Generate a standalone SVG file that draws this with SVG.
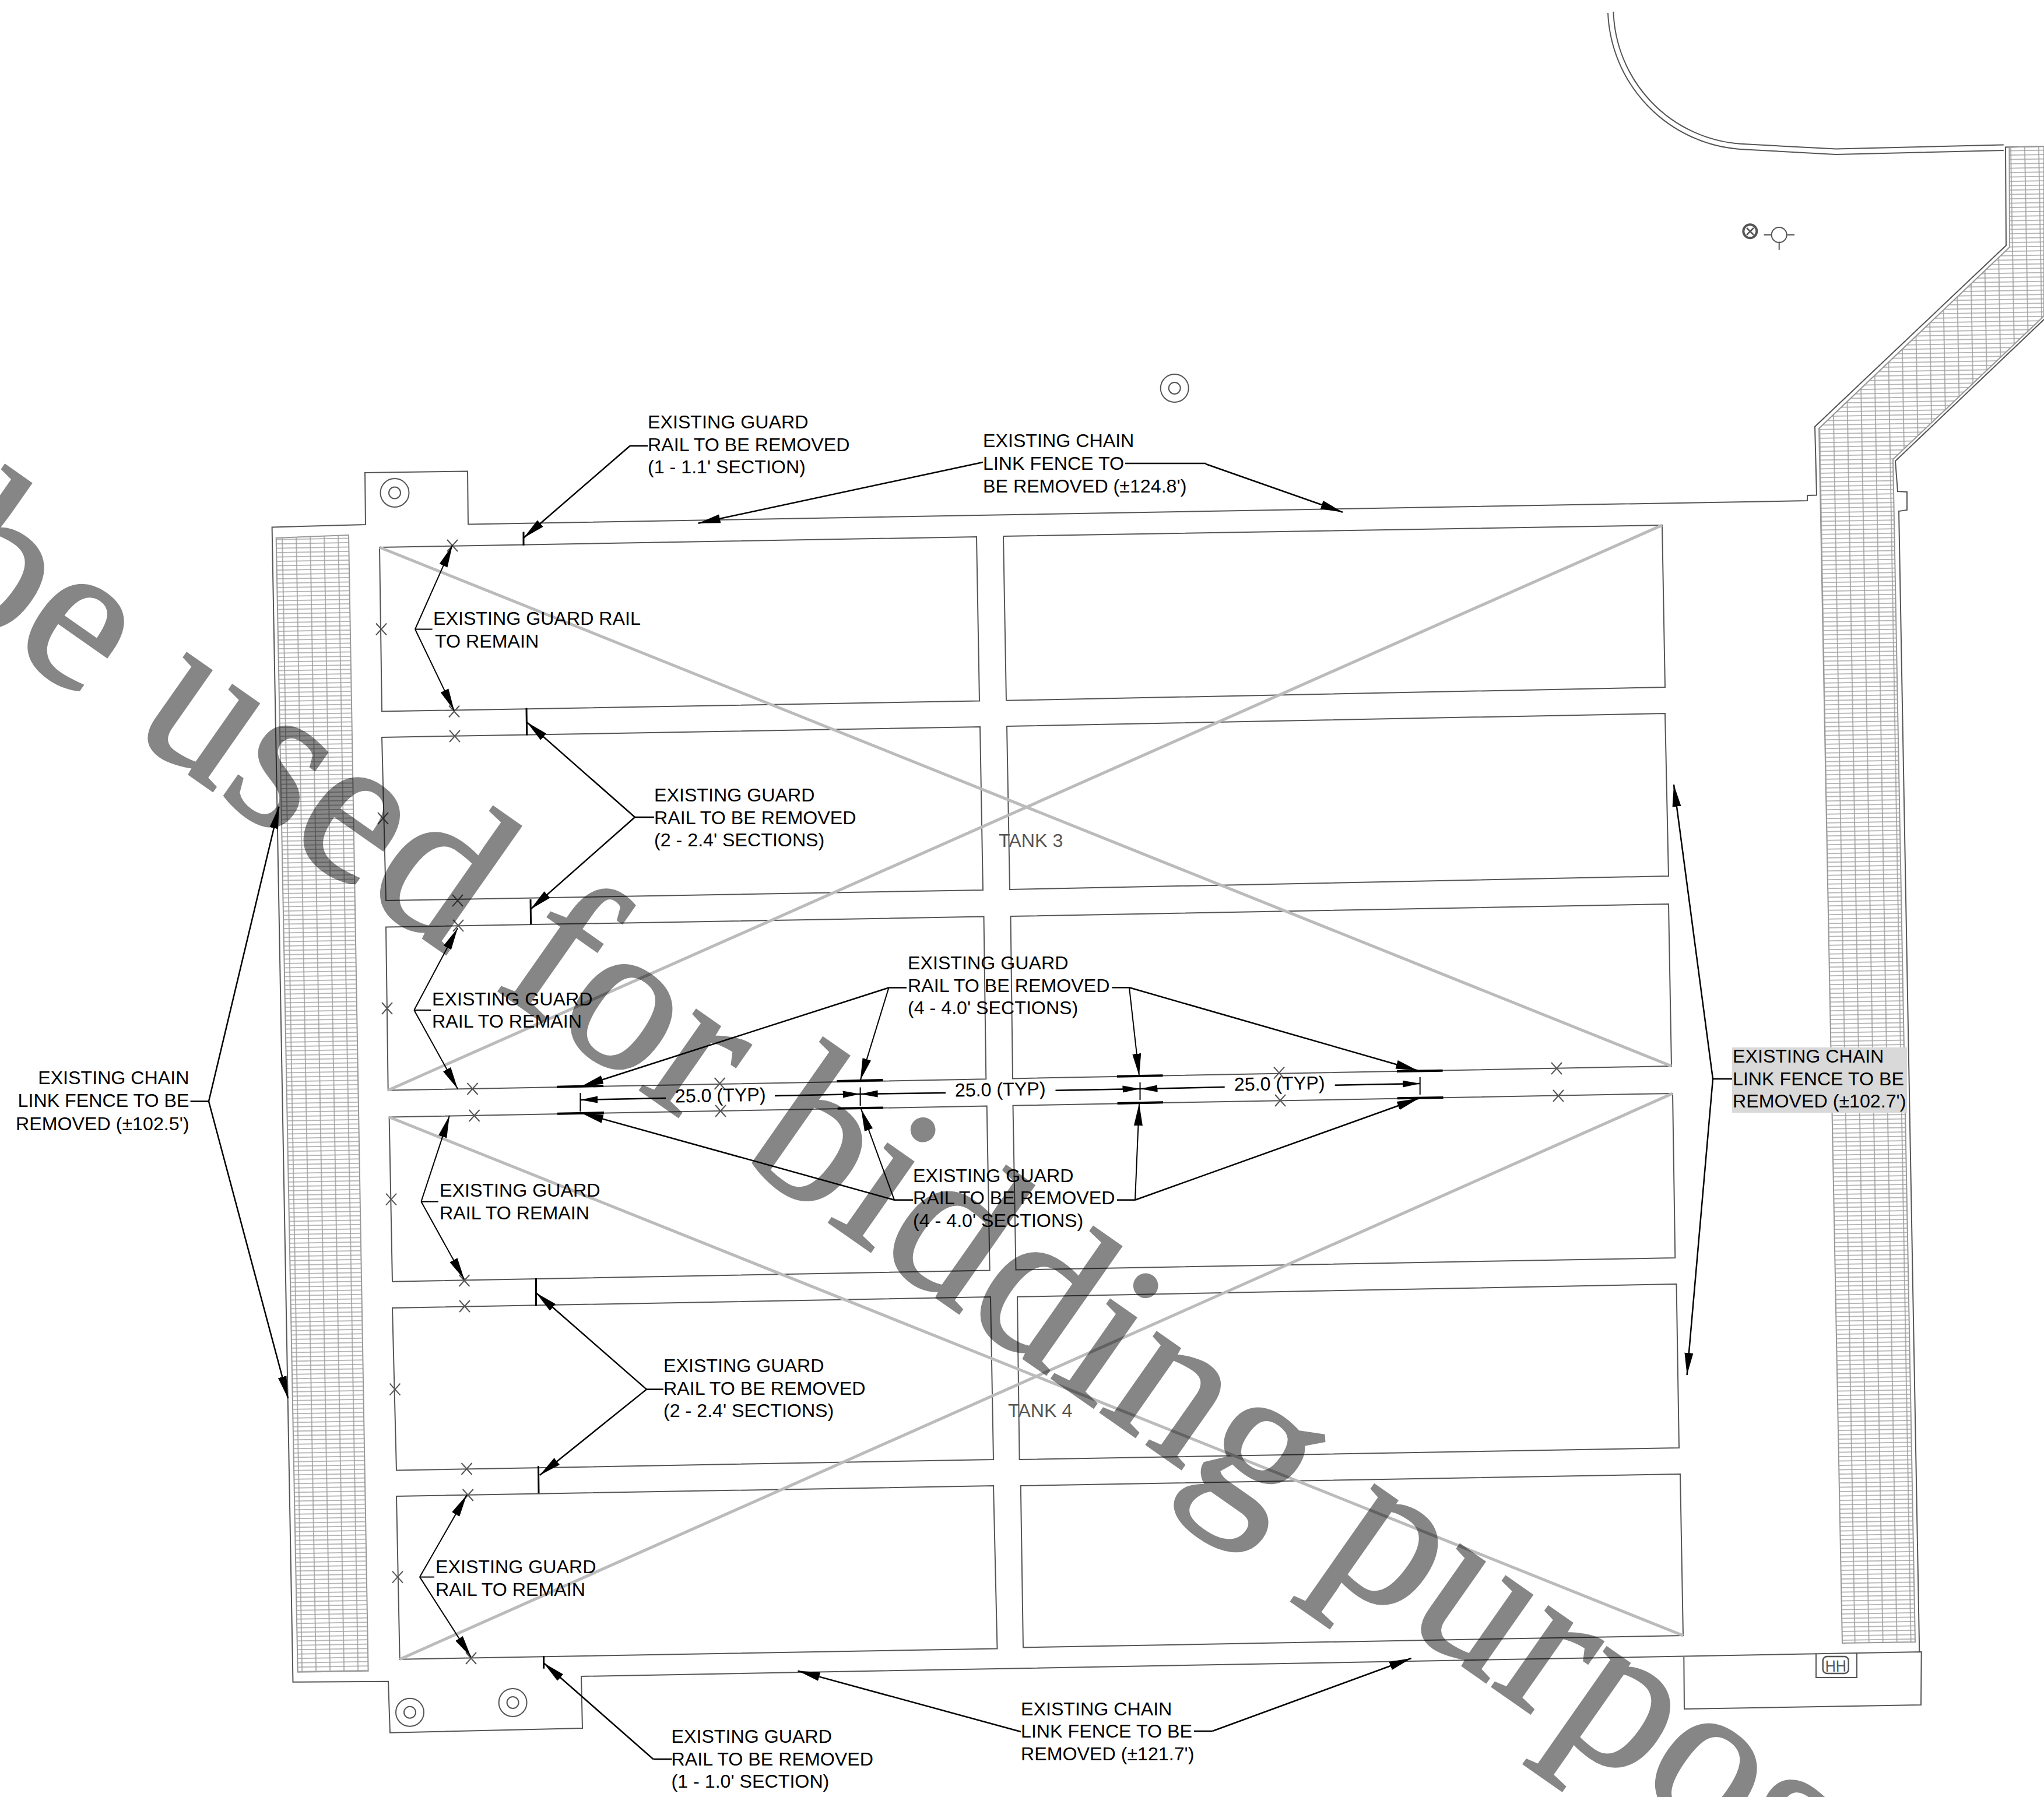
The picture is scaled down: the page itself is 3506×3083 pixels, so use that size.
<svg xmlns="http://www.w3.org/2000/svg" width="3506" height="3083" viewBox="0 0 3506 3083">
<style>
.g{fill:none;stroke:#555;stroke-width:2}
.h{stroke:#999;stroke-width:2}
.d{fill:none;stroke:#bbb;stroke-width:5}
.x{fill:none;stroke:#555;stroke-width:2}
.c{fill:none;stroke:#000;stroke-width:2.5}
.t{fill:none;stroke:#000;stroke-width:4}
.m{fill:none;stroke:#000;stroke-width:2}
text{font-family:"Liberation Sans",Arial,sans-serif;font-size:32.2px;fill:#000}
.tk{fill:#555}
.wm{font-family:"Liberation Serif","Times New Roman",serif;font-size:365px;fill:#000;stroke:#000;stroke-width:4;opacity:.47}
</style>
<defs>
<pattern id="hp" patternUnits="userSpaceOnUse" width="24" height="7.5" patternTransform="rotate(-1)">
<path d="M0,3.75H24M12,0V7.5" fill="none" stroke="#a0a0a0" stroke-width="1.6"/>
</pattern>
<marker id="a" markerUnits="userSpaceOnUse" markerWidth="40" markerHeight="18" refX="38" refY="9" orient="auto"><path d="M0,1.5L38,9L0,16.5z" fill="#000"/></marker>
<marker id="s" markerUnits="userSpaceOnUse" markerWidth="32" markerHeight="14" refX="30" refY="7" orient="auto"><path d="M0,1L30,7L0,13z" fill="#000"/></marker>
<path id="xm" d="M-9,-10L9,10M9,-10L-9,10" class="x"/>
</defs>
<rect width="3506" height="3083" fill="#fff"/>

<g id="site-lines">
<path class="g" d="M3506,251L3440,252.6L3441,421L3113,732L3116,849.6L3100,850L3100,859L803,899.5L802,808.5L626,811L627,900L466.6,904.5L502.5,2885.7L666,2884.7L669,2972.7L999,2965L997,2876L3295.7,2834L3295,2925L2889,2932L2888.3,2843"/>
<path class="g" d="M3506,548L3251,791L3255,843L3271,844L3271,875L3257,877L3292.3,2834"/>
<path class="g" d="M3115,2838V2878H3185V2837"/>
<rect class="g" style="stroke-width:2.5" x="3126.7" y="2842" width="44" height="29" rx="7"/>
<path class="g" d="M2758,22A245,245 0 0 0 2984.3,256L3148.8,265L3436.8,258"/>
<path class="g" d="M2767.4,20A235,235 0 0 0 2985.3,246.8L3148.8,255.5L3436.8,248.6"/>
</g>

<g id="hatch">
<path class="h" fill="url(#hp)" d="M473.7,923L598,918L631.6,2866.7L510.7,2868.7z"/>
<path class="h" fill="url(#hp)" d="M3446.5,252.6L3506,251V542L3247,788L3285,2817L3160,2819L3120,735L3447,424z"/>
</g>

<g id="circles">
<circle class="g" cx="677" cy="845.5" r="24.5"/><circle class="g" cx="677" cy="845.5" r="10"/>
<circle class="g" cx="703" cy="2937.7" r="24"/><circle class="g" cx="703" cy="2937.7" r="10"/>
<circle class="g" cx="879.6" cy="2921" r="24"/><circle class="g" cx="879.6" cy="2921" r="10"/>
<circle class="g" cx="2014.7" cy="666" r="24"/><circle class="g" cx="2014.7" cy="666" r="10"/>
<circle class="g" style="stroke-width:4" cx="3001.8" cy="396.7" r="11.5"/><path class="g" style="stroke-width:2.5" d="M2996,391L3008,403M3008,391L2996,403"/>
<circle class="g" cx="3051.7" cy="403" r="13"/><path class="g" d="M3025.5,403H3038.3M3065.5,403H3078M3051.7,414.5V428.8"/>
</g>

<g id="tank-3">
<path class="g" d="M651,939L1675,921L1680,1202.6L655,1220.5z"/>
<path class="g" d="M1721,920L2851,901L2856,1179L1726,1201.8z"/>
<path class="g" d="M655,1265L1681,1247L1686,1527L662,1545z"/>
<path class="g" d="M1727,1246L2856,1224L2862,1503L1732,1526z"/>
<path class="g" d="M662,1590.6L1687.5,1572.6L1691.3,1851.3L665.7,1870.5z"/>
<path class="g" d="M1733.5,1572L2862,1551L2867,1829L1737,1850.4z"/>
<path class="d" d="M651,939L2867,1829M665.7,1870.5L2851,901"/>
<text class="tk" x="1713" y="1453">TANK 3</text>
</g>
<g id="tank-4">
<path class="g" d="M667.6,1916.5L1692.7,1897.5L1697.7,2179.6L673,2198.7z"/>
<path class="g" d="M1737.5,1896.7L2869,1876L2873.3,2158L1742.5,2178.6z"/>
<path class="g" d="M673,2244L1699,2225L1704,2504L680,2522.5z"/>
<path class="g" d="M1745,2224.8L2875.5,2203L2880,2484L1748.6,2504z"/>
<path class="g" d="M680,2567L1704,2549L1710.5,2828.5L685.7,2846.7z"/>
<path class="g" d="M1750.8,2549L2882,2529L2887,2806L1755,2826.5z"/>
<path class="d" d="M667.6,1916.5L2887,2806M685.7,2846.7L2869,1876"/>
<text class="tk" x="1729" y="2430.5">TANK 4</text>
</g>
<text class="tk" x="3131" y="2868" textLength="36" lengthAdjust="spacingAndGlyphs" style="font-size:28px" transform="rotate(-1 3149 2868)">HH</text>

<g id="rail-marks">
<use href="#xm" x="776" y="936"/><use href="#xm" x="654" y="1079.5"/><use href="#xm" x="779" y="1220.5"/><use href="#xm" x="780" y="1263"/>
<use href="#xm" x="657" y="1404"/><use href="#xm" x="785" y="1545"/><use href="#xm" x="786" y="1588"/><use href="#xm" x="664" y="1730"/>
<use href="#xm" x="810.5" y="1868"/><use href="#xm" x="813.6" y="1914"/><use href="#xm" x="1234.6" y="1859"/><use href="#xm" x="1236" y="1906"/>
<use href="#xm" x="671" y="2057.6"/><use href="#xm" x="796.4" y="2197"/><use href="#xm" x="797" y="2241"/><use href="#xm" x="677.5" y="2383.6"/>
<use href="#xm" x="800.5" y="2520"/><use href="#xm" x="802.7" y="2565"/><use href="#xm" x="682" y="2705.6"/><use href="#xm" x="808" y="2845"/>
<use href="#xm" x="2194" y="1840.7"/><use href="#xm" x="2196" y="1888"/><use href="#xm" x="2670" y="1833"/><use href="#xm" x="2673" y="1880"/>
<path class="c" style="stroke-width:3" d="M898,912.5V935.7M903,1214.7L903.7,1261.6M910,1543L910.6,1586M919.5,2193V2240.6M923.5,2515L924,2562M932.6,2841V2862.7"/>
<path class="t" d="M955,1864.7L1035,1863M956,1910.7L1036,1909M1435.5,1855L1514.5,1853M1436.7,1901.8L1515,1900.4M1916,1846.7L1994.5,1845.3M1916.6,1893L1995,1891.3M2396,1838L2474.6,1836.7M2396.7,1884.3L2475.5,1883"/>
</g>

<g id="connectors">
<path class="c" d="M1111,765H1080.5"/><path class="c" marker-end="url(#a)" d="M1080.5,765L898,923"/>
<path class="c" marker-end="url(#a)" d="M1686,793L1197.6,897.8"/>
<path class="c" d="M1930,795H2068"/><path class="c" marker-end="url(#a)" d="M2068,796L2303,878.7"/>
<path class="m" d="M712,1079.5H741.6"/><path class="m" marker-end="url(#a)" d="M712,1079.5L776,935.7"/><path class="m" marker-end="url(#a)" d="M712,1079.5L779,1219"/>
<path class="c" d="M1122,1402H1089"/><path class="c" marker-end="url(#a)" d="M1089,1402L903.7,1239"/><path class="c" marker-end="url(#a)" d="M1089,1402L910,1560"/>
<path class="m" d="M710.3,1733H739"/><path class="m" marker-end="url(#a)" d="M710.3,1733L785,1592.4"/><path class="m" marker-end="url(#a)" d="M710.3,1733L785,1868"/>
<path class="c" d="M1555,1694.5H1524.5"/><path class="c" marker-end="url(#a)" d="M1524.5,1694.5L997,1864"/><path class="m" marker-end="url(#a)" d="M1524.5,1694.5L1475.6,1853.6"/>
<path class="c" d="M1907.5,1694.3H1937"/><path class="m" marker-end="url(#a)" d="M1937,1694.3L1954,1845.7"/><path class="c" marker-end="url(#a)" d="M1937,1694.3L2432,1836.7"/>
<path class="c" d="M1566,2058.7H1534"/><path class="c" marker-end="url(#a)" d="M1534,2058.7L997,1909.4"/><path class="m" marker-end="url(#a)" d="M1534,2058.7L1477,1902.7"/>
<path class="c" d="M1916,2058.7H1947"/><path class="m" marker-end="url(#a)" d="M1947,2058.7L1954,1893.3"/><path class="c" marker-end="url(#a)" d="M1947,2058.7L2434,1884.3"/>
<path class="m" d="M722.4,2061.6H751.8"/><path class="m" marker-end="url(#a)" d="M722.4,2061.6L771,1914"/><path class="m" marker-end="url(#a)" d="M722.4,2061.6L796.4,2195"/>
<path class="c" d="M1138,2383.6H1109"/><path class="c" marker-end="url(#a)" d="M1109,2383.6L919.5,2218"/><path class="c" marker-end="url(#a)" d="M1109,2383.6L925.7,2531"/>
<path class="m" d="M720,2705.6H745"/><path class="m" marker-end="url(#a)" d="M720,2705.6L800.5,2565"/><path class="m" marker-end="url(#a)" d="M720,2705.6L808,2843"/>
<path class="c" d="M1152.5,3018H1120.4"/><path class="c" marker-end="url(#a)" d="M1120.4,3018L932.6,2853"/>
<path class="c" marker-end="url(#a)" d="M1751,2971L1368.5,2866.6"/>
<path class="c" d="M2048,2970H2079.5"/><path class="c" marker-end="url(#a)" d="M2079.5,2970L2420.7,2845"/>
<path class="c" d="M326.5,1889.5H358"/><path class="c" marker-end="url(#a)" d="M358,1889.5L478.6,1383.7"/><path class="c" marker-end="url(#a)" d="M358,1889.5L494,2399"/>
<path class="c" d="M2971,1851H2938"/><path class="c" marker-end="url(#a)" d="M2938,1851L2871,1346"/><path class="c" marker-end="url(#a)" d="M2938,1851L2893.6,2359"/>
<path class="m" d="M995.4,1875V1907M1475.6,1865.6V1897M1955.5,1857V1887M2435.7,1848V1878"/>
<path class="c" marker-end="url(#s)" d="M1142,1884L995.4,1887"/><path class="c" marker-end="url(#s)" d="M1329,1880L1475.6,1877"/>
<path class="c" marker-end="url(#s)" d="M1622,1875L1475.6,1877"/><path class="c" marker-end="url(#s)" d="M1810.5,1870.7L1955.5,1868"/>
<path class="c" marker-end="url(#s)" d="M2100.7,1865L1955.5,1868"/><path class="c" marker-end="url(#s)" d="M2289.7,1861.7L2435.7,1859"/>
</g>

<g id="label-top-rail"><text x="1111" y="735">EXISTING GUARD</text><text x="1111" y="773.7">RAIL TO BE REMOVED</text><text x="1111" y="812.4">(1 - 1.1' SECTION)</text></g>
<g id="label-top-fence"><text x="1686" y="767">EXISTING CHAIN</text><text x="1686" y="805.7">LINK FENCE TO</text><text x="1686" y="845">BE REMOVED (±124.8')</text></g>
<g id="label-remain-1"><text x="743" y="1072">EXISTING GUARD RAIL</text><text x="746" y="1110.7">TO REMAIN</text></g>
<g id="label-rail-2"><text x="1122" y="1375">EXISTING GUARD</text><text x="1122" y="1413.7">RAIL TO BE REMOVED</text><text x="1122" y="1452.4">(2 - 2.4' SECTIONS)</text></g>
<g id="label-remain-2"><text x="741" y="1725.4">EXISTING GUARD</text><text x="741" y="1763.4">RAIL TO REMAIN</text></g>
<g id="label-rail-4a"><text x="1557" y="1663.3">EXISTING GUARD</text><text x="1557" y="1701.7">RAIL TO BE REMOVED</text><text x="1557" y="1740.4">(4 - 4.0' SECTIONS)</text></g>
<g id="label-rail-4b"><text x="1566" y="2027.7">EXISTING GUARD</text><text x="1566" y="2066">RAIL TO BE REMOVED</text><text x="1566" y="2104.7">(4 - 4.0' SECTIONS)</text></g>
<g id="label-remain-3"><text x="754" y="2053">EXISTING GUARD</text><text x="754" y="2092.4">RAIL TO REMAIN</text></g>
<g id="label-rail-2b"><text x="1138" y="2354">EXISTING GUARD</text><text x="1138" y="2392.5">RAIL TO BE REMOVED</text><text x="1138" y="2431">(2 - 2.4' SECTIONS)</text></g>
<g id="label-remain-4"><text x="747" y="2699">EXISTING GUARD</text><text x="747" y="2738">RAIL TO REMAIN</text></g>
<g id="label-bottom-rail"><text x="1151.5" y="2990">EXISTING GUARD</text><text x="1151.5" y="3028.7">RAIL TO BE REMOVED</text><text x="1151.5" y="3067.4">(1 - 1.0' SECTION)</text></g>
<g id="label-bottom-fence"><text x="1751" y="2942.5">EXISTING CHAIN</text><text x="1751" y="2981">LINK FENCE TO BE</text><text x="1751" y="3019.6">REMOVED (±121.7')</text></g>
<g id="label-left-fence" text-anchor="end"><text x="324.5" y="1860">EXISTING CHAIN</text><text x="324.5" y="1899">LINK FENCE TO BE</text><text x="324.5" y="1938.5">REMOVED (±102.5')</text></g>
<g id="label-right-fence"><rect x="2971" y="1797" width="300" height="112" fill="#d9d9d9"/><text x="2972" y="1822.7">EXISTING CHAIN</text><text x="2972" y="1861.7">LINK FENCE TO BE</text><text x="2972" y="1900.4">REMOVED (±102.7')</text></g>
<g id="dims"><text x="1158" y="1891.5" transform="rotate(-1 1158 1891.5)">25.0 (TYP)</text><text x="1638" y="1881.5" transform="rotate(-1 1638 1881.5)">25.0 (TYP)</text><text x="2117" y="1871.5" transform="rotate(-1 2117 1871.5)">25.0 (TYP)</text></g>

<text id="watermark" class="wm" transform="translate(-136.5,1005.6) rotate(35)">be used for bidding purpos</text>
</svg>
